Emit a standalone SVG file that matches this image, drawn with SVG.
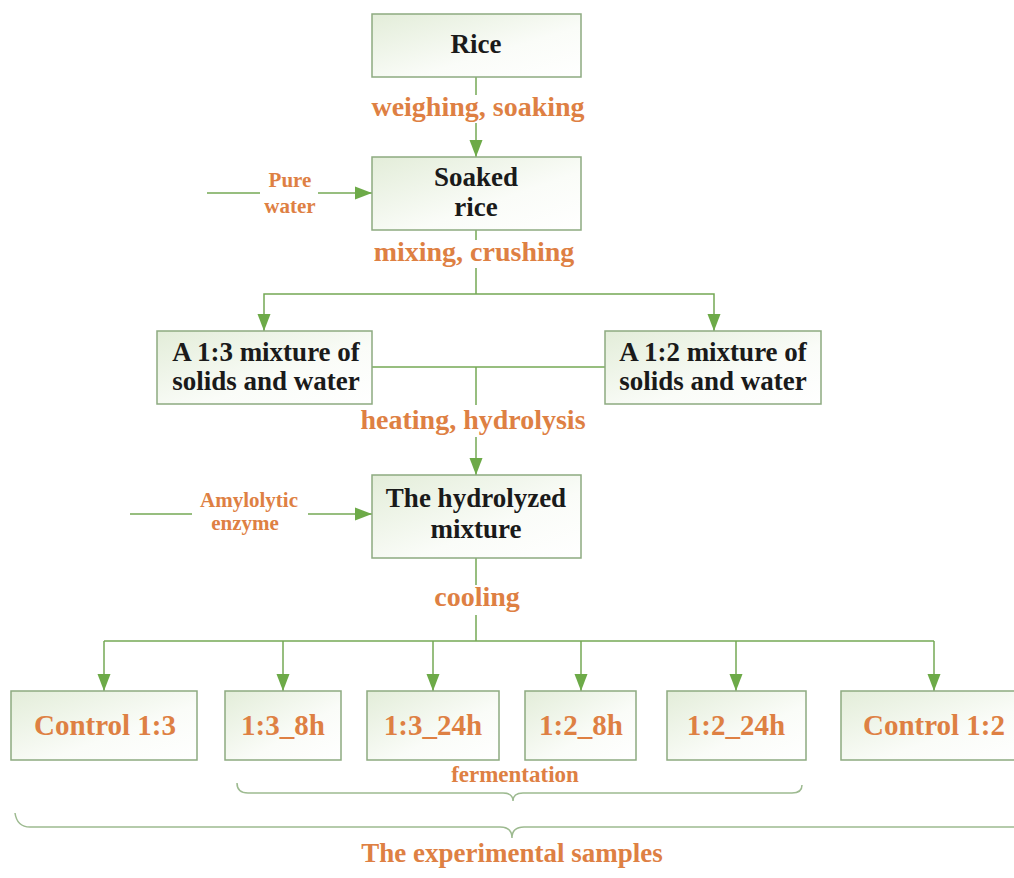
<svg xmlns="http://www.w3.org/2000/svg" width="1014" height="878" viewBox="0 0 1014 878">
<style>
.box{fill:url(#bg);stroke:#8DAA80;stroke-width:1.5}
.nt{font-family:"Liberation Serif",serif;font-weight:bold;font-size:27px;fill:#1a1a1a;text-anchor:middle}
.lb{font-family:"Liberation Serif",serif;font-weight:bold;font-size:28px;fill:#DE8043;text-anchor:middle}
.sm{font-family:"Liberation Serif",serif;font-weight:bold;font-size:21px;fill:#DE8043;text-anchor:middle}
.bg{font-family:"Liberation Serif",serif;font-weight:bold;font-size:29px;fill:#DE8043;text-anchor:middle}
.cn{fill:none;stroke:#74A854;stroke-width:1.5}
.ar{fill:none;stroke:#74A854;stroke-width:1.5;marker-end:url(#ah)}
.br{fill:none;stroke:#9DBA90;stroke-width:1.5}
</style>
<defs>
<linearGradient id="bg" x1="0" y1="0" x2="1" y2="1">
<stop offset="0" stop-color="#E3EDD9"/>
<stop offset="0.6" stop-color="#FAFCF8"/>
<stop offset="1" stop-color="#FFFFFF"/>
</linearGradient>
<marker id="ah" markerUnits="userSpaceOnUse" markerWidth="18" markerHeight="14" refX="17" refY="7" orient="auto">
<path d="M0,0.5 L17,7 L0,13.5 z" fill="#6DAA48"/>
</marker>
</defs>
<rect width="1014" height="878" fill="#FFFFFF"/>
<g id="connectors">
<line class="cn" x1="476" y1="77" x2="476" y2="95"/>
<line class="ar" x1="476" y1="123" x2="476" y2="157"/>
<line class="cn" x1="207" y1="193" x2="260" y2="193"/>
<line class="ar" x1="318" y1="193" x2="372" y2="193"/>
<line class="cn" x1="476" y1="230" x2="476" y2="240"/>
<path class="cn" d="M476,268 V294"/>
<path class="ar" d="M476,294 H264 V331"/>
<path class="ar" d="M476,294 H714 V331"/>
<line class="cn" x1="372" y1="367" x2="605" y2="367"/>
<line class="cn" x1="476" y1="367" x2="476" y2="405"/>
<line class="ar" x1="476" y1="437" x2="476" y2="475"/>
<line class="cn" x1="130" y1="514" x2="192" y2="514"/>
<line class="ar" x1="308" y1="514" x2="372" y2="514"/>
<line class="cn" x1="476" y1="558" x2="476" y2="585"/>
<line class="cn" x1="476" y1="615" x2="476" y2="641"/>
<line class="cn" x1="104" y1="641" x2="934" y2="641"/>
<line class="ar" x1="104" y1="641" x2="104" y2="691"/>
<line class="ar" x1="283" y1="641" x2="283" y2="691"/>
<line class="ar" x1="433" y1="641" x2="433" y2="691"/>
<line class="ar" x1="581" y1="641" x2="581" y2="691"/>
<line class="ar" x1="736" y1="641" x2="736" y2="691"/>
<line class="ar" x1="934" y1="641" x2="934" y2="691"/>
<path class="br" d="M237,783 Q237,793 248,793 L503,793 Q513,793 513,801 Q513,793 523,793 L792,793 Q802,793 802,785"/>
<path class="br" d="M15,813 Q17,827 30,827 L500,827 Q512,827 512,838 Q512,827 524,827 L1014,827"/>
</g>
<g id="labels">
<text class="lb" x="478" y="116">weighing, soaking</text>
<text class="sm" x="290" y="187">Pure</text>
<text class="sm" x="290" y="213">water</text>
<text class="lb" x="474" y="261">mixing, crushing</text>
<text class="lb" x="473" y="429">heating, hydrolysis</text>
<text class="sm" x="249" y="507">Amylolytic</text>
<text class="sm" x="245" y="530">enzyme</text>
<text class="lb" x="477" y="606">cooling</text>
<text class="sm" x="515" y="782" style="font-size:23px">fermentation</text>
<text class="lb" x="512" y="862" style="font-size:27px">The experimental samples</text>
</g>
<g id="n-rice"><rect class="box" x="372" y="14" width="209" height="63"/><text class="nt" x="476" y="53">Rice</text></g>
<g id="n-soaked"><rect class="box" x="372" y="157" width="209" height="73"/><text class="nt" x="476" y="186">Soaked</text><text class="nt" x="476" y="216">rice</text></g>
<g id="n-mix13"><rect class="box" x="157" y="331" width="215" height="73"/><text class="nt" x="266" y="361">A 1:3 mixture of</text><text class="nt" x="266" y="390">solids and water</text></g>
<g id="n-mix12"><rect class="box" x="605" y="331" width="216" height="73"/><text class="nt" x="713" y="361">A 1:2 mixture of</text><text class="nt" x="713" y="390">solids and water</text></g>
<g id="n-hydro"><rect class="box" x="372" y="475" width="209" height="83"/><text class="nt" x="476" y="507">The hydrolyzed</text><text class="nt" x="476" y="538">mixture</text></g>
<g id="n-c13"><rect class="box" x="11" y="691" width="186" height="69"/><text class="bg" x="105" y="735">Control 1:3</text></g>
<g id="n-13-8"><rect class="box" x="225" y="691" width="116" height="69"/><text class="bg" x="283" y="735">1:3_8h</text></g>
<g id="n-13-24"><rect class="box" x="367" y="691" width="132" height="69"/><text class="bg" x="433" y="735">1:3_24h</text></g>
<g id="n-12-8"><rect class="box" x="525" y="691" width="111" height="69"/><text class="bg" x="581" y="735">1:2_8h</text></g>
<g id="n-12-24"><rect class="box" x="667" y="691" width="139" height="69"/><text class="bg" x="736" y="735">1:2_24h</text></g>
<g id="n-c12"><rect class="box" x="841" y="691" width="190" height="69"/><text class="bg" x="934" y="735">Control 1:2</text></g>
</svg>
